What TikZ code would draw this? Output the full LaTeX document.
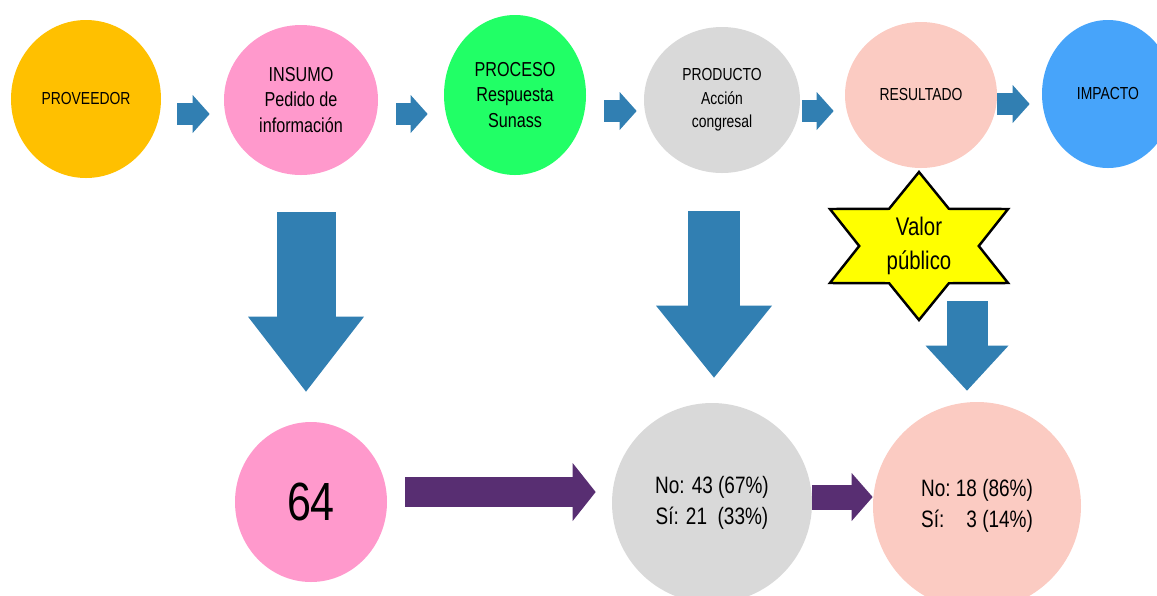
\documentclass[tikz,border=0pt]{standalone}
\usepackage{fontspec}
\setmainfont[FakeStretch=0.8]{Liberation Sans}
\usepackage{tikz}
\usetikzlibrary{shapes.geometric,arrows.meta}
\definecolor{provorange}{RGB}{255,192,0}
\definecolor{insumopink}{RGB}{255,153,204}
\definecolor{procgreen}{RGB}{33,255,102}
\definecolor{prodgray}{RGB}{217,217,217}
\definecolor{resulpeach}{RGB}{251,203,194}
\definecolor{impactblue}{RGB}{71,164,250}
\definecolor{steelarrow}{RGB}{49,127,178}
\definecolor{darkpurple}{RGB}{88,46,114}
\definecolor{valoryellow}{RGB}{255,255,0}

\begin{document}
\begin{tikzpicture}[x=0.2mm, y=-0.2mm,
    oval/.style={ellipse, inner sep=0pt, align=center},
    smalltext/.style={font=\fontsize{9.9}{13.3}\selectfont},
    midtext/.style={font=\fontsize{11.5}{14.5}\selectfont},
    datatext/.style={font=\fontsize{13.5}{17.5}\selectfont},
    fatarrow/.style n args={4}{draw=#1, line width=#2, -{Triangle[length=#3, width=#4, line width=0pt]}},
    smallflow/.style={fatarrow={steelarrow}{4.4mm}{3.4mm}{7.6mm}}]
    \useasboundingbox (0,0) rectangle (1157,595);

    % Top row
    \node[oval, fill=provorange, minimum width=30mm, minimum height=31.6mm, smalltext] (proveedor) at (86,99) {PROVEEDOR};
    \node[oval, fill=insumopink, minimum width=30.8mm, minimum height=30mm, midtext] (insumo) at (301,100) {INSUMO\\Pedido de\\información};
    \node[oval, fill=procgreen, minimum width=28.4mm, minimum height=32mm, midtext] (proceso) at (515,95) {PROCESO\\Respuesta\\Sunass};
    \node[oval, fill=prodgray, minimum width=31.2mm, minimum height=29.2mm, smalltext] (producto) at (722,100) {PRODUCTO\\Acción\\congresal};
    \node[oval, fill=resulpeach, minimum width=30.4mm, minimum height=29.2mm, smalltext] (resultado) at (921,95) {RESULTADO};
    \node[oval, fill=impactblue, minimum width=26.4mm, minimum height=29.6mm, smalltext] (impacto) at (1108,94) {IMPACTO};

    % Chain arrows
    \draw[smallflow] ([shift={(16,15)}]proveedor.east) -- ([shift={(-14,14)}]insumo.west);
    \draw[smallflow] ([shift={(18,14)}]insumo.east) -- ([shift={(-16,19)}]proceso.west);
    \draw[smallflow] ([shift={(18,16)}]proceso.east) -- ([shift={(-7,11)}]producto.west);
    \draw[smallflow] ([shift={(2,11)}]producto.east) -- ([shift={(-11,16)}]resultado.west);
    \draw[smallflow] ([shift={(0,9)}]resultado.east) -- ([shift={(-12,10)}]impacto.west);

    % Valor publico star
    \coordinate (vp) at (919,246);
    \begin{scope}[shift={(vp)}, xscale=1.39]
        \draw[fill=valoryellow, line width=1.4pt] (90:74) -- (60:43) -- (30:74) -- (0:43) -- (-30:74) -- (-60:43)
            -- (-90:74) -- (-120:43) -- (-150:74) -- (180:43) -- (150:74) -- (120:43) -- cycle;
    \end{scope}
    \node[align=center, font=\fontsize{14.5}{19}\selectfont] (valor) at (vp) {Valor\\público};

    % Bottom row
    \node[oval, fill=insumopink, minimum width=30.4mm, minimum height=32mm, font=\fontsize{30.6}{36}\selectfont] (total) at (311,502) {64};
    \node[oval, fill=prodgray, minimum size=40mm, datatext] (accion) at (712,503) {No: 43 (67\%)\\Sí: 21\ \ (33\%)};
    \node[oval, fill=resulpeach, minimum size=41.6mm, datatext] (efecto) at (977,506)
        {\begin{tabular}{@{}l@{\ }r@{\ }l@{}}No: & 18 & (86\%)\\Sí: & 3 & (14\%)\end{tabular}};

    % Down arrows
    \draw[fatarrow={steelarrow}{11.8mm}{15mm}{23.2mm}] ([shift={(5,37)}]insumo.south) -- ([shift={(-5,-30)}]total.north);
    \draw[fatarrow={steelarrow}{10.4mm}{14.4mm}{23.2mm}] ([shift={(-8,38)}]producto.south) -- ([shift={(2,-25)}]accion.north);
    \draw[fatarrow={steelarrow}{8.2mm}{9mm}{16.6mm}] ([shift={(48,55)}]valor.center) -- ([shift={(-10,-11)}]efecto.north);

    % Results arrows
    \draw[fatarrow={darkpurple}{6mm}{4.6mm}{11.6mm}] ([shift={(18,-10)}]total.east) -- ([shift={(-16,-11)}]accion.west);
    \draw[fatarrow={darkpurple}{5mm}{4.2mm}{9.6mm}] ([shift={(0,-6)}]accion.east) -- ([shift={(0,-9)}]efecto.west);
\end{tikzpicture}
\end{document}
